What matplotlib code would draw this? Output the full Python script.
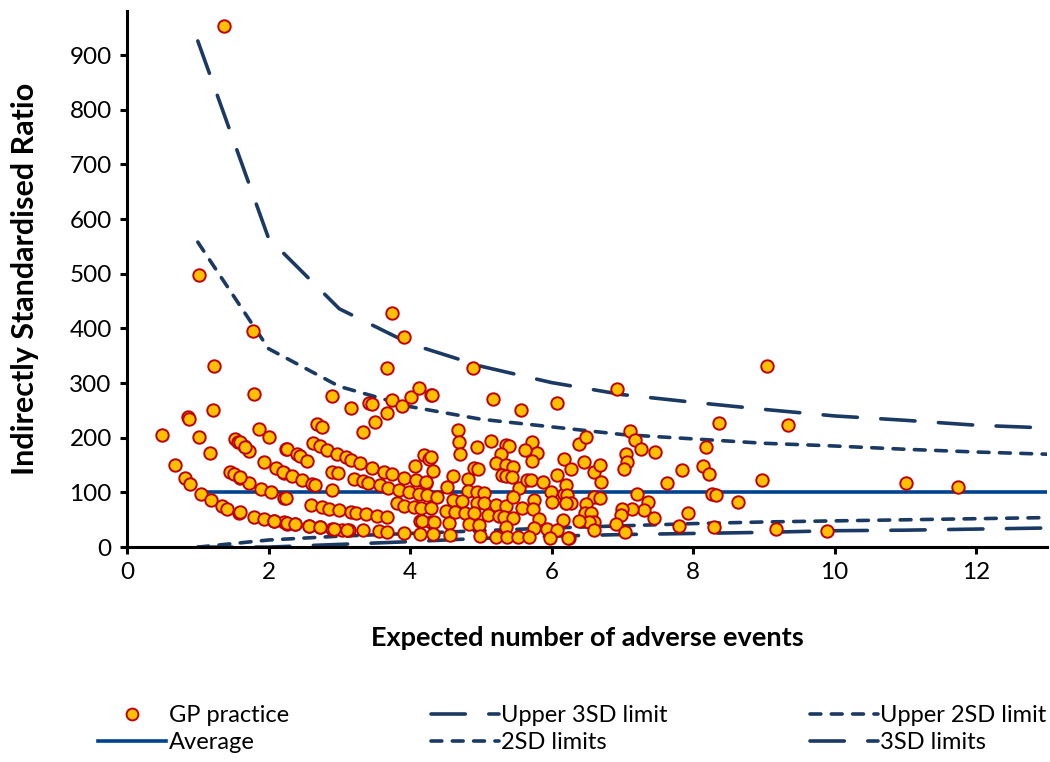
import numpy as np
import matplotlib
matplotlib.use("Agg")
import matplotlib.pyplot as plt
from matplotlib.lines import Line2D

plt.rcParams['font.family'] = ['Lato', 'DejaVu Sans']

# GP practices: expected number of adverse events vs indirectly standardised ratio
expected = [
    1.37, 1.01, 1.78, 1.23, 1.80, 1.21, 0.86, 0.87, 0.50, 1.01, 1.17, 1.87, 2.00,
    1.53, 1.57, 1.65, 1.72, 0.68, 0.82, 0.89, 1.05, 1.19, 1.46, 1.51, 1.59, 1.73,
    1.93, 2.11, 2.22, 1.90, 2.03, 2.22, 1.34, 1.41, 1.58, 1.79, 1.93, 2.08, 2.22,
    2.24, 1.60, 1.67, 1.60, 1.60, 2.07, 2.26, 2.38, 2.57, 2.72, 2.90, 3.04, 3.13,
    3.75, 3.92, 3.67, 2.90, 3.16, 3.42, 3.46, 3.74, 3.89, 4.02, 4.13, 4.29, 3.68,
    3.50, 3.34, 2.68, 2.75, 2.26, 2.40, 2.45, 2.54, 2.63, 2.72, 2.83, 2.97, 3.09,
    3.16, 3.29, 3.46, 3.63, 3.75, 3.91, 4.08, 4.22, 4.07, 4.19, 4.27, 2.21, 2.33,
    2.47, 2.61, 2.65, 2.90, 2.98, 2.90, 3.21, 3.34, 3.41, 3.57, 3.69, 3.85, 3.99,
    4.13, 4.24, 2.25, 2.60, 2.75, 2.85, 3.00, 3.17, 3.23, 3.38, 3.53, 3.67, 3.81,
    3.92, 4.05, 4.14, 4.29, 2.26, 2.38, 2.57, 2.72, 2.92, 3.11, 3.34, 3.56, 3.67,
    3.92, 4.14,
    4.89, 5.17, 5.57, 6.07, 4.31, 4.68, 4.69, 4.71, 4.94, 5.14, 5.36, 5.40, 5.28,
    5.21, 5.35, 5.46, 5.73, 5.80, 5.73, 5.63, 6.17, 6.08, 4.29, 4.33, 4.23, 4.60,
    4.82, 4.91, 4.96, 5.30, 5.35, 5.44, 5.54, 5.65, 5.71, 5.88, 4.52, 4.82, 4.94,
    5.05, 5.99, 6.00, 6.17, 6.21, 4.38, 4.60, 4.74, 4.94, 5.05, 5.22, 5.36, 5.45,
    5.58, 5.75, 5.74, 4.15, 4.29, 4.51, 4.63, 4.77, 4.90, 5.10, 5.25, 5.33, 5.45,
    5.82, 6.16, 4.17, 4.34, 4.55, 4.83, 4.97, 5.36, 5.75, 5.93, 6.07, 4.33, 4.56,
    4.99, 5.21, 5.37, 5.53, 5.68, 5.98, 6.24,
    6.93, 6.39, 6.48, 7.11, 7.18, 7.26, 7.46, 7.05, 7.07, 7.02, 6.28, 6.46, 6.60,
    6.68, 6.70, 6.21, 6.22, 6.27, 6.20, 6.60, 6.68, 7.21, 7.36, 7.30, 7.13, 7.00,
    6.98, 6.91, 7.04, 7.45, 7.63, 7.85, 8.14, 8.23, 8.18, 7.93, 7.80, 6.48, 6.47,
    6.56, 6.60, 6.53, 6.39, 6.60, 6.23,
    9.05, 8.37, 9.34, 8.97, 8.27, 8.32, 8.64, 8.30, 9.17, 9.89, 11.01, 11.75,
]
isr = [
    953, 497, 396, 332, 280, 251, 238, 234, 205, 201, 172, 216, 202,
    197, 192, 185, 176, 150, 126, 115, 98, 86, 138, 133, 126, 118,
    156, 144, 136, 106, 100, 90, 75, 70, 63, 55, 51, 48, 46,
    179, 193, 184, 129, 65, 48, 43, 42, 39, 37, 34, 32, 31,
    428, 384, 328, 277, 254, 263, 261, 269, 258, 274, 292, 279, 245,
    229, 210, 226, 219, 179, 170, 166, 158, 191, 185, 177, 170, 164,
    159, 153, 144, 138, 134, 127, 123, 118, 148, 168, 162, 138, 130,
    123, 115, 113, 138, 135, 104, 124, 121, 118, 113, 109, 104, 101,
    98, 95, 90, 77, 73, 70, 68, 65, 62, 60, 57, 55, 80,
    76, 74, 48, 46, 45, 43, 38, 37, 34, 32, 31, 30, 28,
    26, 24,
    328, 271, 251, 263, 279, 215, 192, 170, 183, 195, 187, 185, 171,
    153, 151, 147, 193, 173, 157, 178, 162, 132, 164, 140, 120, 130,
    124, 144, 142, 132, 130, 129, 109, 122, 122, 119, 110, 103, 101,
    99, 101, 83, 98, 81, 92, 87, 85, 81, 80, 77, 75, 92,
    71, 87, 69, 71, 71, 66, 65, 63, 62, 59, 57, 55, 54,
    51, 49, 48, 46, 44, 42, 40, 37, 35, 34, 32, 24, 22,
    20, 19, 19, 19, 18, 17, 17,
    289, 188, 201, 212, 196, 179, 174, 170, 156, 143, 143, 155, 137,
    150, 119, 113, 96, 80, 80, 92, 90, 97, 82, 68, 69, 70,
    59, 43, 28, 54, 118, 141, 148, 134, 183, 63, 39, 79, 63,
    62, 46, 46, 48, 31, 17,
    332, 227, 224, 123, 98, 96, 82, 36, 33, 30, 118, 110,
]

# control limits (read at integer expected values)
limit_x = [1, 2, 3, 4, 5, 6, 7, 8, 9, 10, 11, 12, 13]
upper_3sd = [926, 565, 436, 372, 331, 301, 279, 265, 252, 240, 232, 223, 218]
upper_2sd = [558, 363, 294, 257, 234, 220, 206, 198, 190, 185, 179, 174, 170]
lower_2sd = [0, 13, 20, 25, 30, 35, 39, 43, 46, 48, 50, 52, 54]
lower_3sd = [0, 0, 5, 10, 16, 20, 23, 25, 27, 30, 31, 33, 35]
average = [100] * len(limit_x)

navy = '#1b3a63'
blue = '#00428f'
long_dash = (9.5, 6.5)
short_dash = (3.0, 2.9)

fig = plt.figure(figsize=(10.5, 7.62), dpi=100)
ax = fig.add_axes([0.121, 0.282, 0.876, 0.703])

lw = 2.6
ax.plot(limit_x, lower_3sd, color=navy, lw=lw, dashes=long_dash, dash_capstyle='round')
ax.plot(limit_x, lower_2sd, color=navy, lw=lw, dashes=short_dash, dash_capstyle='round')
ax.plot(limit_x, average, color=blue, lw=lw)
ax.plot(limit_x, upper_2sd, color=navy, lw=lw, dashes=short_dash, dash_capstyle='round')
ax.plot(limit_x, upper_3sd, color=navy, lw=lw, dashes=long_dash, dash_capstyle='round')
ax.scatter(expected, isr, s=80, facecolor='#ffc000', edgecolor='#c00000',
           linewidths=1.4, zorder=5)

ax.set_xlim(0, 13)
ax.set_ylim(0, 980)
ax.set_xticks([0, 2, 4, 6, 8, 10, 12])
ax.set_yticks(range(0, 1000, 100))
for s in ['top', 'right']:
    ax.spines[s].set_visible(False)
for s in ['left', 'bottom']:
    ax.spines[s].set_linewidth(2.2)
ax.tick_params(axis='both', direction='out', length=5, width=2.2, labelsize=17.5, pad=6)
ax.set_xlabel('Expected number of adverse events', fontsize=19.5, fontweight='bold', labelpad=31)
ax.set_ylabel('Indirectly Standardised Ratio', fontsize=22, fontweight='bold', labelpad=22)

handles = [
    Line2D([], [], ls='none', marker='o', markersize=8.5, markerfacecolor='#ffc000',
           markeredgecolor='#c00000', markeredgewidth=1.4),
    Line2D([], [], color=blue, lw=lw),
    Line2D([], [], color=navy, lw=lw, dashes=long_dash, dash_capstyle='round'),
    Line2D([], [], color=navy, lw=lw, dashes=short_dash, dash_capstyle='round'),
    Line2D([], [], color=navy, lw=lw, dashes=short_dash, dash_capstyle='round'),
    Line2D([], [], color=navy, lw=lw, dashes=long_dash, dash_capstyle='round'),
]
labels = ['GP practice', 'Average', 'Upper 3SD limit', '2SD limits',
          'Upper 2SD limit', '3SD limits']
fig.legend(handles, labels, loc='center', bbox_to_anchor=(0.545, 0.043), ncol=3,
           frameon=False, fontsize=17, handlelength=2.9, handletextpad=0.1,
           columnspacing=6.0, labelspacing=0.25)

fig.savefig('out.png', dpi=100)
